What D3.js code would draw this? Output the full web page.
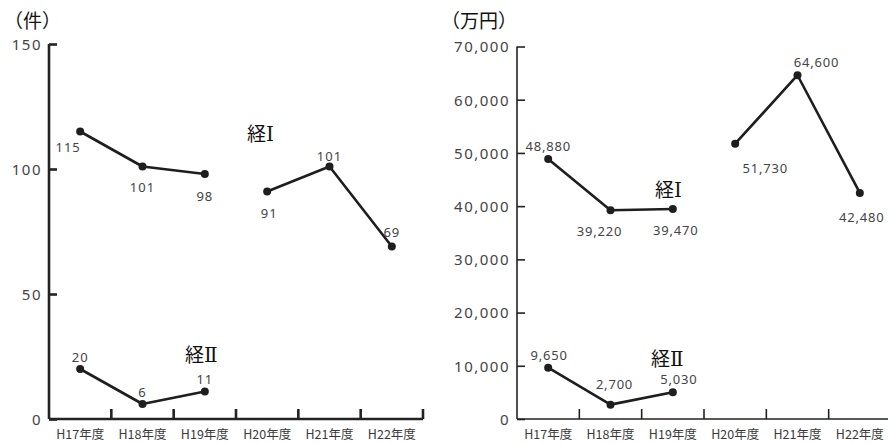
<!DOCTYPE html>
<html><head><meta charset="utf-8">
<script src="https://cdn.jsdelivr.net/npm/d3@7"></script>
<style>
html,body{margin:0;padding:0;background:#fff;}
svg{display:block;}
</style></head>
<body><svg id="c" width="888" height="444"></svg>
<script>
// ---- data ----
const categories = ["H17年度","H18年度","H19年度","H20年度","H21年度","H22年度"];
const countTicks = [0,50,100,150];
const amountTicks = [0,10000,20000,30000,40000,50000,60000,70000];
const countKeiI  = [115,101,98,91,101,69];
const countKeiII = [20,6,11,null,null,null];
const amountKeiI  = [48880,39220,39470,51730,64600,42480];
const amountKeiII = [9650,2700,5030,null,null,null];
const segments = [[0,1,2],[3,4,5]];   // H19 -> H20 is not connected
const seriesNames = [["経","Ⅰ"],["経","Ⅱ"]];
const unitLeft = "（件）", unitRight = "（万円）";

// ---- label placement (style only) ----
const lblCountI  = [[-12,16],[0,21],[0,22],[2,22],[0,-10],[0,-14]];
const lblCountII = [[0,-12],[0,-12],[0,-12]];
const lblAmtI    = [[0,-13],[-11,21],[3,21],[30,25],[19,-13],[2,24]];
const lblAmtII   = [[1,-12],[4,-20],[6,-13]];

const svg = d3.select("#c");
const numFont = "'Noto Sans', 'DejaVu Sans', sans-serif";
const cjkFont = "'Noto Sans CJK JP', sans-serif";
const romanFont = "'DejaVu Serif', 'Liberation Serif', serif";

function panel(cfg){
  const g = svg.append("g");
  const x = d3.scaleBand().domain(categories).range([cfg.x0, cfg.x1]).padding(0);
  const y = d3.scaleLinear().domain(cfg.ydomain).range([419, cfg.ytop]);

  // y axis
  const ya = d3.axisLeft(y).tickValues(cfg.ticks).tickSize(-8).tickPadding(7)
    .tickFormat(cfg.fmt);
  const yg = g.append("g").attr("transform",`translate(${cfg.x0},0)`).call(ya);
  yg.select(".domain").attr("stroke","#222").attr("stroke-width",cfg.axisW)
    .attr("d",`M0,${y(cfg.ydomain[1])}V${y(0)}`);
  yg.selectAll(".tick line").attr("stroke","#222").attr("stroke-width",cfg.axisW);
  yg.selectAll(".tick text").attr("font-family",numFont).attr("font-size",15)
    .attr("fill","#444").attr("letter-spacing",cfg.ls).attr("dy","0.36em");

  // x axis
  const xa = d3.axisBottom(x).tickSize(0).tickPadding(11);
  const xg = g.append("g").attr("transform","translate(0,419)").call(xa);
  xg.select(".domain").attr("stroke","#222").attr("stroke-width",cfg.axisW)
    .attr("d",`M${cfg.x0},0H${cfg.x1}`);
  xg.selectAll(".tick text").attr("font-family",cjkFont).attr("font-size",12.5)
    .attr("fill","#3a3a3a");
  g.append("g").selectAll("line").data(categories).join("line")
    .attr("x1",d=>x(d)+x.bandwidth()).attr("x2",d=>x(d)+x.bandwidth())
    .attr("y1",419).attr("y2",409).attr("stroke","#222").attr("stroke-width",cfg.axisW);

  const cx = i => x(categories[i]) + x.bandwidth()/2;

  cfg.series.forEach(s=>{
    segments.forEach(seg=>{
      const idx = seg.filter(i=>s.vals[i]!=null);
      if(idx.length<2) return;
      g.append("path").attr("d", d3.line().x(i=>cx(i)).y(i=>y(s.vals[i]))(idx))
        .attr("fill","none").attr("stroke","#1e1e1e").attr("stroke-width",2.6)
        .attr("stroke-linejoin","round");
    });
    const pts = s.vals.map((v,i)=>({v,i})).filter(d=>d.v!=null);
    g.append("g").selectAll("circle").data(pts).join("circle")
      .attr("cx",d=>cx(d.i)).attr("cy",d=>y(d.v)).attr("r",4).attr("fill","#1e1e1e");
    g.append("g").selectAll("text").data(pts).join("text")
      .attr("x",d=>cx(d.i)+s.lbl[d.i][0]).attr("y",d=>y(d.v)+s.lbl[d.i][1])
      .attr("dy","0.36em").attr("text-anchor","middle")
      .attr("font-family",numFont).attr("font-size",13).attr("letter-spacing",cfg.lls)
      .attr("fill","#444").text(d=>cfg.fmt(d.v));
    const t = g.append("text").attr("x",s.nameX).attr("y",s.nameY).attr("dy","0.36em")
      .attr("font-size",19).attr("fill","#111");
    t.append("tspan").attr("font-family",cjkFont).text(s.name[0]);
    t.append("tspan").attr("font-family",romanFont).attr("font-size",20).text(s.name[1]);
  });

  g.append("text").attr("x",cfg.unitX).attr("y",28).attr("font-family",cjkFont)
    .attr("font-size",19).attr("fill","#111").text(cfg.unit);
}

panel({x0:49,x1:423,ytop:44,ydomain:[0,150],ticks:countTicks,fmt:d3.format("d"),
  axisW:2.6,ls:1.5,lls:1,unit:unitLeft,unitX:4,
  series:[
    {vals:countKeiI,lbl:lblCountI,name:seriesNames[0],nameX:247,nameY:134},
    {vals:countKeiII,lbl:lblCountII,name:seriesNames[1],nameX:185,nameY:355}
  ]});

panel({x0:517,x1:891,ytop:46.5,ydomain:[0,70000],ticks:amountTicks,fmt:d3.format(","),
  axisW:1.6,ls:1.5,lls:0.8,unit:unitRight,unitX:441,
  series:[
    {vals:amountKeiI,lbl:lblAmtI,name:seriesNames[0],nameX:655,nameY:190},
    {vals:amountKeiII,lbl:lblAmtII,name:seriesNames[1],nameX:651,nameY:359}
  ]});
</script></body></html>
